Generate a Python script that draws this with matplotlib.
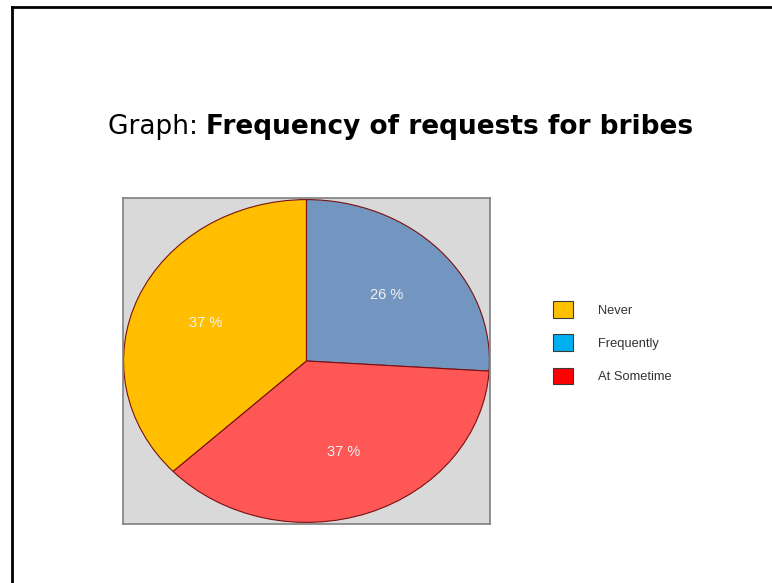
import matplotlib
matplotlib.use("Agg")
import matplotlib.pyplot as plt
from matplotlib.patches import Patch
from matplotlib.lines import Line2D

# donnees
categories = ["Never", "Frequently", "At Sometime"]
valeurs = [37, 26, 37]
couleurs_pie = ["#FFBF00", "#7396C1", "#FF5656"]
couleurs_legende = ["#FFC000", "#00B0F0", "#FF0000"]

W, H = 772, 583
fig = plt.figure(figsize=(W/100, H/100), dpi=100)
fig.patch.set_facecolor("white")


def px(x0, y0, w, h):
    # rectangle en pixels (origine en haut a gauche) -> coordonnees figure
    return [x0/W, 1 - (y0 + h)/H, w/W, h/H]


# cadre de la page (haut et gauche seulement)
fig.add_artist(Line2D([12/W, 1], [1 - 7/H, 1 - 7/H], color="black", lw=2, transform=fig.transFigure))
fig.add_artist(Line2D([12/W, 12/W], [0, 1 - 7/H], color="black", lw=2, transform=fig.transFigure))

# titre
t1 = fig.text(108/W, 1 - 134/H, "Graph: ", fontsize=19, family="DejaVu Sans", va="baseline", ha="left")
ax_t = fig.add_axes([0, 0, 1, 1])
ax_t.set_axis_off()
ax_t.annotate("Frequency of requests for bribes", xy=(1, 0), xycoords=t1, va="bottom", ha="left",
              fontsize=19, fontweight="bold", family="DejaVu Sans", annotation_clip=False)

# camembert
ax = fig.add_axes(px(123, 198, 367, 326))
start = 90 + 360*valeurs[0]/sum(valeurs)
wedges, textes, pct = ax.pie(valeurs, colors=couleurs_pie, startangle=start, counterclock=False,
                             autopct=lambda p: "%d %%" % round(p), pctdistance=0.6,
                             wedgeprops=dict(edgecolor="#7A1010", linewidth=0.8))
for t in pct:
    t.set_color("#F2F2F2")
    t.set_fontsize(10.5)
    t.set_family("Liberation Sans")
ax.set_aspect("auto")
ax.set_xlim(-1.003, 1.003)
ax.set_ylim(-1.01, 1.01)
ax.set_frame_on(True)
ax.set_facecolor("#D9D9D9")
for s in ax.spines.values():
    s.set_color("#7F7F7F")
    s.set_linewidth(1.2)
ax.set_xticks([])
ax.set_yticks([])

# legende
poignees = [Patch(facecolor=c, edgecolor="#3A3A3A", lw=0.8) for c in couleurs_legende]
leg = fig.legend(poignees, categories, loc="upper left", bbox_to_anchor=(553/W, 1 - 301/H),
                 frameon=False, prop={"family": "Liberation Sans", "size": 9.3},
                 handlelength=1.55, handleheight=1.6, handletextpad=1.94, labelspacing=1.3,
                 borderpad=0, borderaxespad=0)
for t in leg.get_texts():
    t.set_color("#333333")

plt.savefig("out.png", dpi=100)
plt.close()
